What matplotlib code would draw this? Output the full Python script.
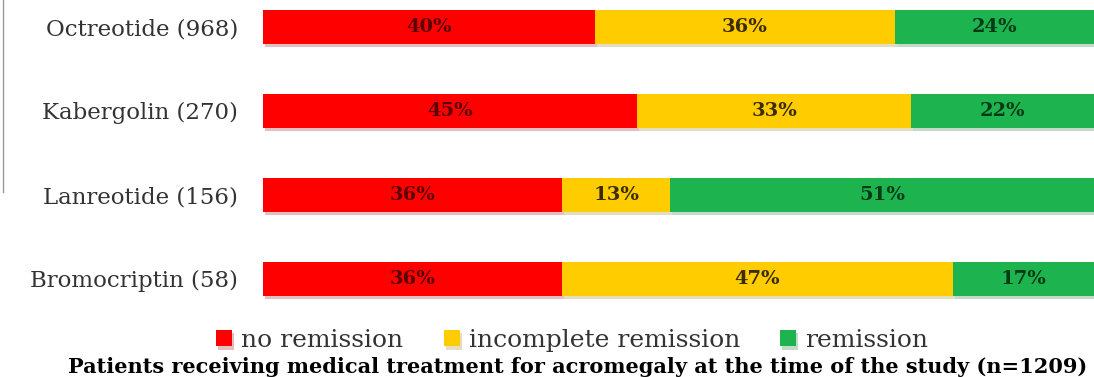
import numpy as np
import matplotlib.pyplot as plt
import matplotlib.patheffects as pe
from matplotlib.lines import Line2D

drugs = ['Octreotide (968)', 'Kabergolin (270)', 'Lanreotide (156)', 'Bromocriptin (58)']
no_remission = [40, 45, 36, 36]
incomplete = [36, 33, 13, 47]
remission = [24, 22, 51, 17]
series_names = ['no remission', 'incomplete remission', 'remission']

colors = ['#ff0000', '#ffcc00', '#1db44f']
text_colors = ['#5a0000', '#3a2c00', '#063a17']

plt.rcParams['font.family'] = ['DejaVu Serif']

fig = plt.figure(figsize=(10.94, 3.77), dpi=100)
ax = fig.add_axes([0.2404, 0.178, 0.7596, 0.822])

y = np.arange(len(drugs))
left = np.zeros(len(drugs))
shadow = [pe.SimplePatchShadow(offset=(1.5, -2.5), alpha=0.25, rho=0.6), pe.Normal()]
for vals, name, c, tc in zip([no_remission, incomplete, remission], series_names, colors, text_colors):
    bars = ax.barh(y, vals, left=left, height=0.405, color=c, label=name, path_effects=shadow)
    for b, v in zip(bars, vals):
        ax.text(b.get_x() + b.get_width() / 2, b.get_y() + b.get_height() / 2, f'{v}%',
                ha='center', va='center', fontsize=14, fontweight='bold', color=tc)
    left += np.array(vals)

ax.set_xlim(0, 100)
ax.set_ylim(3.37, -0.32)
ax.set_yticks(y)
ax.set_yticklabels(drugs, fontsize=16.5, color='#333333')
ax.tick_params(axis='y', length=0, pad=18)
ax.set_xticks([])
for s in ax.spines.values():
    s.set_visible(False)

fig.legend(loc='center', bbox_to_anchor=(0.523, 0.098), ncol=3, frameon=False,
           fontsize=18, handlelength=0.64, handleheight=0.64, handletextpad=0.36,
           columnspacing=1.6, labelcolor='#333333', borderaxespad=0, borderpad=0)
fig.text(0.528, 0.027, 'Patients receiving medical treatment for acromegaly at the time of the study (n=1209)',
         ha='center', va='center', fontsize=15, fontweight='bold', color='black')

# frame remnant on the left edge
fig.add_artist(Line2D([0.003, 0.003], [1.0, 0.49], transform=fig.transFigure, color='#999999', lw=1))

fig.savefig('out.png', dpi=100)
